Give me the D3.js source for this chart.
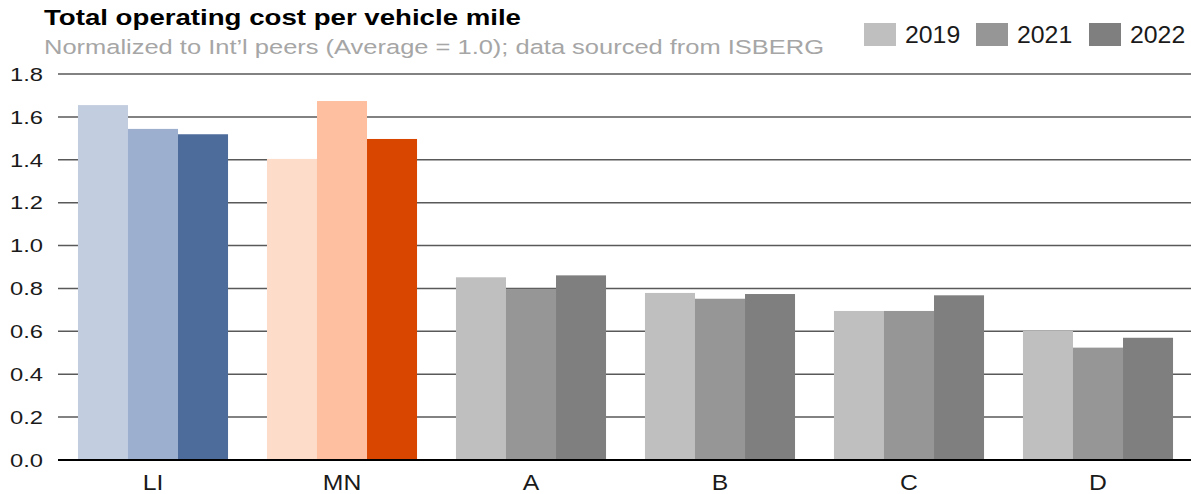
<!DOCTYPE html>
<html><head><meta charset="utf-8">
<script src="https://d3js.org/d3.v7.min.js"></script>
<style>body{margin:0;background:#fff;} text{font-family:Arial,"Liberation Sans",sans-serif;}</style>
</head><body><svg id="c" width="1191" height="494"></svg>
<script>
const categories = ["LI","MN","A","B","C","D"];
const years = ["2019","2021","2022"];
const v2019 = [1.655,1.404,0.852,0.779,0.695,0.602];
const v2021 = [1.544,1.674,0.798,0.752,0.695,0.524];
const v2022 = [1.519,1.497,0.861,0.774,0.768,0.570];
const yTicks = [0,0.2,0.4,0.6,0.8,1.0,1.2,1.4,1.6,1.8];
const liColors = ["#c3cde0","#9dafce","#4d6b9b"];
const mnColors = ["#fddcca","#fdbf9f","#d94600"];
const grayColors = ["#bfbfbf","#969696","#7f7f7f"];

const series = [v2019, v2021, v2022];
const svg = d3.select("#c");
const x = d3.scaleBand().domain(categories).range([58.5,1192.5]).paddingInner(0.206).paddingOuter(0.103);
const xs = d3.scaleBand().domain(years).range([0, x.bandwidth()]);
const y = d3.scaleLinear().domain([0,1.8]).range([460,74]);

// gridlines
svg.append("g").selectAll("line").data(yTicks.filter(d=>d>0)).join("line")
  .attr("x1",58).attr("x2",1191).attr("y1",d=>y(d)).attr("y2",d=>y(d))
  .attr("stroke","#595959").attr("stroke-width",1.5);

// y labels
svg.append("g").selectAll("text").data(yTicks).join("text")
  .attr("transform",d=>`translate(43,${y(d)+6.8}) scale(1.25,1)`)
  .attr("text-anchor","end")
  .attr("font-size",19).attr("fill","#1a1a1a").text(d=>d.toFixed(1));

function colorFor(ci, si){
  if (categories[ci]==="LI") return liColors[si];
  if (categories[ci]==="MN") return mnColors[si];
  return grayColors[si];
}
const bars = [];
categories.forEach((c,ci)=>years.forEach((yr,si)=>bars.push({c,ci,yr,si,v:series[si][ci]})));
svg.append("g").selectAll("rect").data(bars).join("rect")
  .attr("x",d=>x(d.c)+xs(d.yr)).attr("width",xs.bandwidth())
  .attr("y",d=>y(d.v)).attr("height",d=>y(0)-y(d.v))
  .attr("fill",d=>colorFor(d.ci,d.si));

// zero line
svg.append("line").attr("x1",58).attr("x2",1191).attr("y1",y(0)).attr("y2",y(0))
  .attr("stroke","#000").attr("stroke-width",2.2);

// x labels
svg.append("g").selectAll("text").data(categories).join("text")
  .attr("transform",d=>`translate(${x(d)+x.bandwidth()/2},490) scale(1.15,1)`)
  .attr("text-anchor","middle")
  .attr("font-size",21.5).attr("fill","#1a1a1a").text(d=>d);

// title
svg.append("text").attr("x",44).attr("y",25).attr("font-size",22).attr("font-weight","bold").attr("fill","#000")
  .attr("textLength",477).attr("lengthAdjust","spacingAndGlyphs")
  .text("Total operating cost per vehicle mile");
svg.append("text").attr("x",44).attr("y",54).attr("font-size",20.5).attr("fill","#a6a6a6")
  .attr("textLength",780).attr("lengthAdjust","spacingAndGlyphs")
  .text("Normalized to Int\u2019l peers (Average = 1.0); data sourced from ISBERG");

// legend
const legX = [864, 976, 1089];
const lg = svg.append("g").selectAll("g").data(years).join("g");
lg.append("rect").attr("x",(d,i)=>legX[i]).attr("y",23).attr("width",32).attr("height",23)
  .attr("fill",(d,i)=>grayColors[i]);
lg.append("text").attr("transform",(d,i)=>`translate(${legX[i]+41},43.3) scale(1.08,1)`)
  .attr("font-size",23).attr("fill","#1a1a1a").text(d=>d);
</script></body></html>
